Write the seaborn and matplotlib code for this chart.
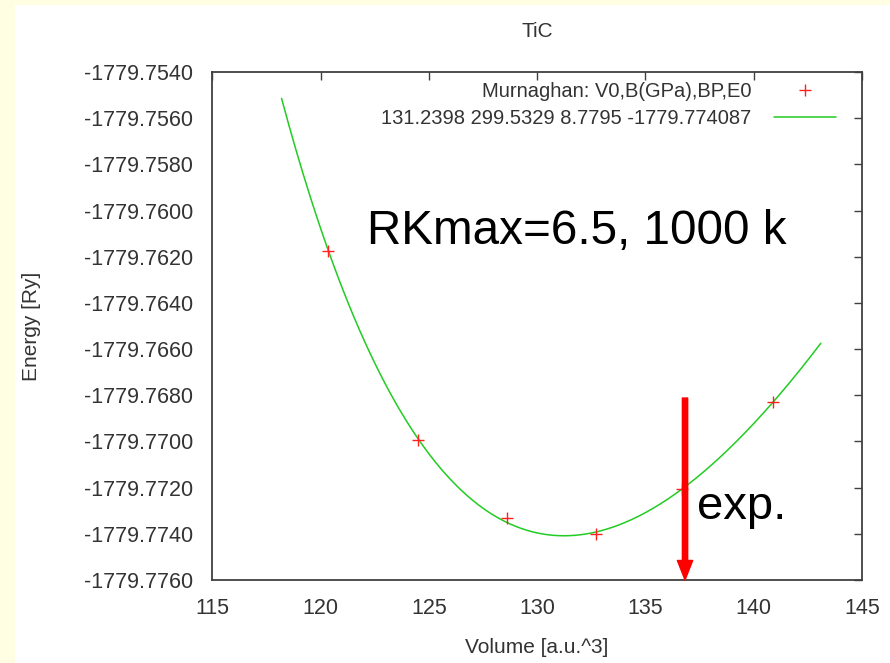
import numpy as np
import pandas as pd
import matplotlib
matplotlib.use("Agg")
import matplotlib.pyplot as plt
import seaborn as sns
from matplotlib.lines import Line2D
from matplotlib.patches import Rectangle

# Computed total energies of TiC
volume = [120.35, 124.51, 128.62, 132.72, 136.70, 140.89]
energy = [-1779.76175, -1779.76994, -1779.77331, -1779.77401, -1779.77206, -1779.76829]

# Murnaghan fit parameters: V0 [a.u.^3], B [GPa], B', E0 [Ry]
V0, B_GPA, BP, E0 = 131.2398, 299.5329, 8.7795, -1779.774087
fit_range = [118.2, 143.1]
exp_volume = 136.83

x_ticks = [115, 120, 125, 130, 135, 140, 145]
y_ticks = [-1779.7540, -1779.7560, -1779.7580, -1779.7600, -1779.7620, -1779.7640,
           -1779.7660, -1779.7680, -1779.7700, -1779.7720, -1779.7740, -1779.7760]

GPA_PER_RY_BOHR3 = 14710.5


def murnaghan(v):
    b = B_GPA / GPA_PER_RY_BOHR3
    return E0 + b * v / BP * ((V0 / v) ** BP / (BP - 1) + 1) - b * V0 / (BP - 1)


v_fit = np.linspace(fit_range[0], fit_range[1], 300)
fit_df = pd.DataFrame({"V": v_fit, "E": murnaghan(v_fit)})
pts_df = pd.DataFrame({"V": volume, "E": energy})

sns.set_theme(style="white")
plt.rcParams["font.family"] = ["Liberation Sans", "DejaVu Sans"]

fig = plt.figure(figsize=(8.9, 6.63), dpi=100)
fig.patch.set_facecolor("#FFFEE2")
fig.add_artist(Rectangle((15 / 890, 0), 1 - 15 / 890, 1 - 5 / 663,
                         transform=fig.transFigure, facecolor="white",
                         edgecolor="none", zorder=0))

ax = fig.add_axes([0.2385, 0.1253, 0.7300, 0.7660])
ax.set_facecolor("white")

sns.lineplot(data=fit_df, x="V", y="E", ax=ax, color="#22cc22", linewidth=1.1,
             zorder=2)
sns.scatterplot(data=pts_df, x="V", y="E", ax=ax, marker="+", color="#ff2020",
                s=70, linewidth=1.0, zorder=3)

ax.set_xlim(115, 145)
ax.set_ylim(-1779.7760, -1779.7540)
ax.set_xticks(x_ticks)
ax.set_yticks(y_ticks)
ax.set_yticklabels([f"{t:.4f}" for t in y_ticks])
ax.tick_params(direction="in", length=6, width=1, color="#404040",
               labelsize=15.5, labelcolor="#333333", top=True, right=True,
               labeltop=False, labelright=False)
ax.tick_params(axis="x", pad=13)
ax.tick_params(axis="y", pad=14)
for s in ax.spines.values():
    s.set_color("#404040")
    s.set_linewidth(1.3)

ax.set_xlabel("Volume [a.u.^3]", fontsize=15, color="#333333", labelpad=14)
ax.set_ylabel("Energy [Ry]", fontsize=15, color="#333333", labelpad=31)
ax.set_title("TiC", fontsize=15, color="#333333", pad=25)

handles = [Line2D([], [], marker="+", linestyle="none", color="#ff2020",
                  markersize=9, markeredgewidth=1.0),
           Line2D([], [], color="#22cc22", linewidth=1.1)]
labels = ["Murnaghan: V0,B(GPa),BP,E0",
          f"{V0} {B_GPA} {BP} {E0:.6f}"]
ax.legend(handles, labels, loc="upper right", bbox_to_anchor=(0.988, 1.016),
          frameon=False, markerfirst=False, fontsize=14.5,
          handlelength=3.1, handletextpad=1.1, labelspacing=0.4,
          labelcolor="#333333")

ax.text(0.238, 0.662, "RKmax=6.5, 1000 k", transform=ax.transAxes,
        fontsize=34.3, color="black", va="baseline", ha="left")
ax.text(136.83 + 0.55, -1779.77337, "exp.", fontsize=34, color="black",
        va="baseline", ha="left")

ax.annotate("", xy=(exp_volume, -1779.7760), xytext=(exp_volume, -1779.76812),
            arrowprops=dict(facecolor="#ff0000", edgecolor="#ff0000",
                            width=3.8, headwidth=11, headlength=14, shrink=0),
            zorder=4, annotation_clip=False)

fig.savefig("out.png", dpi=100, facecolor=fig.get_facecolor())
